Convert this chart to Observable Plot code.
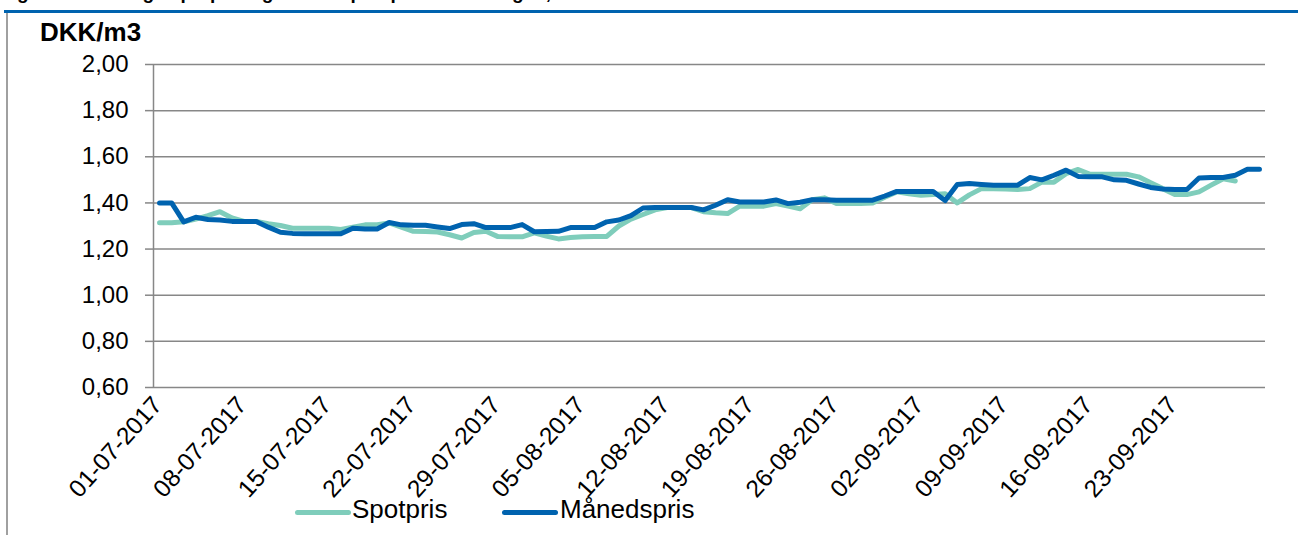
<!DOCTYPE html>
<html>
<head>
<meta charset="utf-8">
<script src="https://cdn.jsdelivr.net/npm/d3@7"></script>
<script src="https://cdn.jsdelivr.net/npm/@observablehq/plot@0.6"></script>
<style>
  html, body { margin: 0; padding: 0; background: #fff; }
  #wrap { position: relative; width: 1298px; height: 535px; overflow: hidden; font-family: "Liberation Sans", Arial, sans-serif; }
  #title { position: absolute; left: 0px; top: -18px; font-weight: bold; font-size: 19px; white-space: nowrap; color: #000; }
  #bar { position: absolute; left: 4px; right: 0; top: 10px; height: 3px; background: #0063af; }
  #frame { position: absolute; left: 6px; top: 13px; bottom: 0; width: 2px; background: #a0a0a0; }
  #unit { position: absolute; left: 40px; top: 17px; font-weight: bold; font-size: 26px; color: #000; }
  #chart { position: absolute; left: 0; top: 0; }
  .lg-line { position: absolute; height: 5px; border-radius: 3px; }
  .lg-text { position: absolute; font-size: 26px; color: #000; }
</style>
</head>
<body>
<div id="wrap">
  <div id="chart"></div>
  <div id="title">Figur 5 Udvikling i spotpris og månedspris på handelsdagen, 3. kvartal 2017</div>
  <div id="bar"></div>
  <div id="frame"></div>
  <div id="unit">DKK/m3</div>
  <div class="lg-line" style="left:295px; top:510px; width:56px; background:#7fcdbb;"></div>
  <div class="lg-text" style="left:352px; top:494px;">Spotpris</div>
  <div class="lg-line" style="left:502px; top:510px; width:56px; background:#0063af;"></div>
  <div class="lg-text" style="left:560px; top:494px;">Månedspris</div>
</div>
<script>
const startDay = "2017-07-01";
const endDay = "2017-10-01";

const spotpris = [
  1.314, 1.314, 1.318, 1.330, 1.345, 1.362, 1.335, 1.320, 1.320, 1.310,
  1.302, 1.290, 1.290, 1.290, 1.290, 1.285, 1.295, 1.305, 1.305, 1.313,
  1.295, 1.277, 1.276, 1.274, 1.262, 1.248, 1.272, 1.277, 1.254, 1.253,
  1.253, 1.270, 1.256, 1.244, 1.250, 1.253, 1.254, 1.255, 1.300, 1.330,
  1.350, 1.370, 1.380, 1.380, 1.380, 1.362, 1.357, 1.354, 1.386, 1.386,
  1.386, 1.397, 1.386, 1.375, 1.414, 1.422, 1.398, 1.398, 1.398, 1.400,
  1.425, 1.448, 1.440, 1.433, 1.437, 1.440, 1.400, 1.435, 1.462, 1.461,
  1.460, 1.458, 1.462, 1.490, 1.490, 1.527, 1.545, 1.524, 1.524, 1.524,
  1.524, 1.513, 1.487, 1.462, 1.436, 1.436, 1.448, 1.477, 1.505, 1.495
];

const maanedspris = [
  1.400, 1.400, 1.318, 1.338, 1.328, 1.326, 1.320, 1.320, 1.320, 1.295,
  1.273, 1.268, 1.266, 1.266, 1.266, 1.266, 1.290, 1.287, 1.287, 1.315,
  1.305, 1.303, 1.303, 1.296, 1.289, 1.306, 1.310, 1.293, 1.293, 1.293,
  1.306, 1.275, 1.276, 1.277, 1.293, 1.293, 1.293, 1.318, 1.326, 1.345,
  1.378, 1.380, 1.380, 1.380, 1.380, 1.370, 1.390, 1.414, 1.404, 1.404,
  1.404, 1.413, 1.397, 1.403, 1.414, 1.414, 1.412, 1.412, 1.412, 1.412,
  1.430, 1.450, 1.450, 1.450, 1.450, 1.410, 1.480, 1.484, 1.480, 1.477,
  1.477, 1.477, 1.510, 1.500, 1.520, 1.542, 1.515, 1.513, 1.513, 1.500,
  1.498, 1.482, 1.467, 1.460, 1.458, 1.458, 1.508, 1.510, 1.510, 1.520,
  1.546, 1.546
];

const yTicks = [0.60, 0.80, 1.00, 1.20, 1.40, 1.60, 1.80, 2.00];
const xTickLabels = [
  "01-07-2017", "08-07-2017", "15-07-2017", "22-07-2017", "29-07-2017",
  "05-08-2017", "12-08-2017", "19-08-2017", "26-08-2017", "02-09-2017",
  "09-09-2017", "16-09-2017", "23-09-2017"
];

const parseDMY = d3.utcParse("%d-%m-%Y");
const fmtDMY = d3.utcFormat("%d-%m-%Y");
const days = d3.utcDay.range(new Date(startDay), new Date(endDay));
const spotData = spotpris.map((v, i) => ({date: days[i], value: v}));
const maanedData = maanedspris.map((v, i) => ({date: days[i], value: v}));
const xTicks = xTickLabels.map(parseDMY);
const xDomain = [d3.utcHour.offset(days[0], -12), d3.utcHour.offset(days[days.length - 1], 12)];

const gray = "#878787";
const chart = Plot.plot({
  width: 1298,
  height: 535,
  marginLeft: 153,
  marginRight: 33,
  marginTop: 64,
  marginBottom: 148,
  style: {fontFamily: "'Liberation Sans', Arial, sans-serif", fontSize: "24px", color: "#000", background: "transparent", overflow: "visible"},
  x: {type: "utc", domain: xDomain},
  y: {domain: [0.6, 2.0]},
  marks: [
    Plot.gridY(yTicks, {stroke: gray, strokeOpacity: 1, strokeWidth: 1.5}),
    Plot.ruleX([xDomain[0]], {stroke: gray, strokeWidth: 1.5}),
    Plot.axisY(yTicks, {tickFormat: d => d.toFixed(2).replace(".", ","), tickSize: 8, tickPadding: 17, stroke: gray, strokeWidth: 1.5, fill: "#000", fontSize: 24, label: null}),
    Plot.axisX(xTicks, {tickFormat: fmtDMY, tickRotate: -48, tickSize: 0, tickPadding: 13, dx: -2, fill: "#000", fontSize: 24.5, label: null}),
    Plot.line(spotData, {x: "date", y: "value", stroke: "#7fcdbb", strokeWidth: 5, strokeLinejoin: "round", strokeLinecap: "round"}),
    Plot.line(maanedData, {x: "date", y: "value", stroke: "#0063af", strokeWidth: 5, strokeLinejoin: "round", strokeLinecap: "round"})
  ]
});
document.getElementById("chart").appendChild(chart);
</script>
</body>
</html>
